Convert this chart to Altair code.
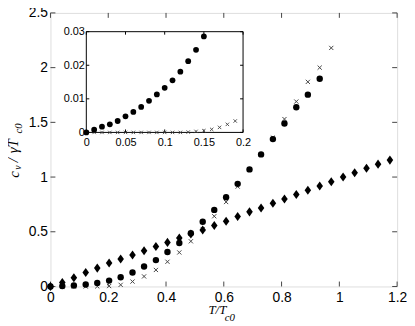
import altair as alt
import pandas as pd

# ---------------- data ----------------
main_x = [0, 0.041, 0.081, 0.122, 0.162, 0.203, 0.243, 0.284, 0.324, 0.365,
          0.405, 0.446, 0.486, 0.527, 0.567, 0.608, 0.648, 0.689, 0.729, 0.770,
          0.810, 0.851, 0.891, 0.932, 0.972, 1.013, 1.053, 1.094, 1.134, 1.175]
circle_y = [0, 0.0034, 0.009, 0.018, 0.033, 0.054, 0.085, 0.128, 0.182, 0.241,
            0.315, 0.398, 0.486, 0.591, 0.70, 0.815, 0.938, 1.07, 1.207, 1.347,
            1.49, 1.638, 1.753, 1.899]
cross_y = [0, 0, 0, 0, 0.001, 0.004, 0.015, 0.045, 0.092, 0.151,
           0.226, 0.311, 0.413, 0.525, 0.642, 0.772, 0.913, 1.07, 1.21, 1.36,
           1.53, 1.69, 1.87, 2.0, 2.18]
diamond_y = [0, 0.037, 0.08, 0.127, 0.168, 0.214, 0.252, 0.288, 0.326, 0.365,
             0.403, 0.444, 0.48, 0.517, 0.558, 0.597, 0.639, 0.682, 0.718, 0.760,
             0.799, 0.841, 0.880, 0.919, 0.958, 1.001, 1.040, 1.080, 1.118, 1.155]

inset_x = [0, 0.01, 0.02, 0.03, 0.04, 0.05, 0.06, 0.07, 0.08, 0.09,
           0.10, 0.11, 0.12, 0.13, 0.14, 0.15, 0.16, 0.17, 0.18, 0.19]
inset_circle_y = [0, 0.0008, 0.0017, 0.0024, 0.0034, 0.0048, 0.0061, 0.0076,
                  0.0094, 0.0113, 0.0133, 0.0155, 0.0181, 0.0212, 0.0246, 0.0286]
inset_cross_y = [0, 0, 0, 0, 0, 0, 0, 0, 0, 0,
                 0, 0, 0, 0.0001, 0.0003, 0.0005, 0.0009, 0.0015, 0.0024, 0.0034]

main_xticks = [0, 0.2, 0.4, 0.6, 0.8, 1.0, 1.2]
main_yticks = [0, 0.5, 1.0, 1.5, 2.0, 2.5]
inset_xticks = [0, 0.05, 0.1, 0.15, 0.2]
inset_yticks = [0, 0.01, 0.02, 0.03]

# ---------------- layout constants ----------------
W, H = 351, 277
IX0, IX1 = 36.3, 195.0      # inset left/right (px inside plot)
IY0, IY1 = 121.0, 19.0      # inset bottom/top (px inside plot)
TICK = 5
ITICK = 3
FRAME = "#444444"
SANS = "Liberation Sans"
SERIF = "Liberation Serif"

df_c = pd.DataFrame({"x": main_x[:len(circle_y)], "y": circle_y})
df_x = pd.DataFrame({"x": main_x[:len(cross_y)], "y": cross_y})
df_d = pd.DataFrame({"x": main_x[:len(diamond_y)], "y": diamond_y})
df_ic = pd.DataFrame({"x": inset_x[:len(inset_circle_y)], "y": inset_circle_y})
df_ix = pd.DataFrame({"x": inset_x[:len(inset_cross_y)], "y": inset_cross_y})

xs = alt.Scale(domain=[0, 1.2], nice=False, zero=False)
ys = alt.Scale(domain=[0, 2.5], nice=False, zero=False)
xaxis = alt.Axis(values=main_xticks, format="~g", ticks=False, domain=False, grid=False,
                 labelFontSize=14, labelPadding=4, labelFlush=False, labelOverlap=False,
                 labelFont=SANS, labelColor="black", title=None, orient="bottom")
yaxis = alt.Axis(values=main_yticks, format="~g", ticks=False, domain=False, grid=False,
                 labelFontSize=14, labelPadding=3, labelFlush=False, labelOverlap=False,
                 labelFont=SANS, labelColor="black", title=None, orient="left")


def MX(f):
    return alt.X(f, type="quantitative", scale=xs, axis=xaxis)


def MY(f):
    return alt.Y(f, type="quantitative", scale=ys, axis=yaxis)


ixs = alt.Scale(domain=[0, 0.2], range=[IX0, IX1], nice=False, zero=False)
iys = alt.Scale(domain=[0, 0.03], range=[IY0, IY1], nice=False, zero=False)
ixaxis = alt.Axis(values=inset_xticks, format="~g", ticks=False, domain=False, grid=False,
                  labelFontSize=11, labelPadding=4, labelFlush=False, labelOverlap=False,
                  labelFont=SANS, labelColor="black", title=None, orient="bottom",
                  offset=IY0 - H)
iyaxis = alt.Axis(values=inset_yticks, format="~g", ticks=False, domain=False, grid=False,
                  labelFontSize=11, labelPadding=2, labelFlush=False, labelOverlap=False,
                  labelFont=SANS, labelColor="black", title=None, orient="left",
                  offset=-IX0)


def IX(f):
    return alt.X(f, type="quantitative", scale=ixs, axis=ixaxis)


def IY(f):
    return alt.Y(f, type="quantitative", scale=iys, axis=iyaxis)


diamond_path = "M0,-1.45L1.05,0L0,1.45L-1.05,0Z"
x_path = "M-1,-1L1,1M-1,1L1,-1"

# ---------------- main panel ----------------
m_circ = alt.Chart(df_c).mark_point(shape="circle", filled=True, size=42, color="black",
                                    opacity=1).encode(x=MX("x"), y=MY("y"))
m_cross = alt.Chart(df_x).mark_point(shape=x_path, filled=False, size=18, color="#444444",
                                     strokeWidth=1, opacity=1).encode(x=MX("x"), y=MY("y"))
m_diam = alt.Chart(df_d).mark_point(shape=diamond_path, filled=True, size=40, color="black",
                                    opacity=1).encode(x=MX("x"), y=MY("y"))

df_mxt = pd.DataFrame({"v": main_xticks})
df_myt = pd.DataFrame({"v": main_yticks})
tk_b = alt.Chart(df_mxt).mark_rule(color=FRAME, strokeWidth=1).encode(
    x=MX("v"), y=alt.value(H), y2=alt.value(H - TICK))
tk_t = alt.Chart(df_mxt).mark_rule(color=FRAME, strokeWidth=1).encode(
    x=MX("v"), y=alt.value(0), y2=alt.value(TICK))
tk_l = alt.Chart(df_myt).mark_rule(color=FRAME, strokeWidth=1).encode(
    y=MY("v"), x=alt.value(0), x2=alt.value(TICK))
tk_r = alt.Chart(df_myt).mark_rule(color=FRAME, strokeWidth=1).encode(
    y=MY("v"), x=alt.value(W), x2=alt.value(W - TICK))

main = alt.layer(tk_b, tk_t, tk_l, tk_r, m_cross, m_circ, m_diam)

# ---------------- inset panel ----------------
df_frame = pd.DataFrame({"x": [inset_xticks[0]], "x2": [inset_xticks[-1]],
                         "y": [inset_yticks[0]], "y2": [inset_yticks[-1]]})
i_frame = alt.Chart(df_frame).mark_rect(fill="white", stroke="black", strokeWidth=1).encode(
    x=IX("x"), x2="x2:Q", y=IY("y"), y2="y2:Q")
df_ixt = pd.DataFrame({"v": inset_xticks})
df_iyt = pd.DataFrame({"v": inset_yticks})
itk_b = alt.Chart(df_ixt).mark_rule(color="black", strokeWidth=1).encode(
    x=IX("v"), y=alt.value(IY0), y2=alt.value(IY0 - ITICK))
itk_t = alt.Chart(df_ixt).mark_rule(color="black", strokeWidth=1).encode(
    x=IX("v"), y=alt.value(IY1), y2=alt.value(IY1 + ITICK))
itk_l = alt.Chart(df_iyt).mark_rule(color="black", strokeWidth=1).encode(
    y=IY("v"), x=alt.value(IX0), x2=alt.value(IX0 + ITICK))
itk_r = alt.Chart(df_iyt).mark_rule(color="black", strokeWidth=1).encode(
    y=IY("v"), x=alt.value(IX1), x2=alt.value(IX1 - ITICK))
i_cross = alt.Chart(df_ix).mark_point(shape=x_path, filled=False, size=12, color="#444444",
                                      strokeWidth=0.9, opacity=1).encode(x=IX("x"), y=IY("y"))
i_circ = alt.Chart(df_ic).mark_point(shape="circle", filled=True, size=34, color="black",
                                     opacity=1).encode(x=IX("x"), y=IY("y"))

inset = alt.layer(i_frame, itk_b, itk_t, itk_l, itk_r, i_cross, i_circ)

# ---------------- axis titles (built from pieces for subscripts) ----------------
one = pd.DataFrame({"a": [0]})


def label(text, x, y, size, angle=0, align="center", baseline="middle"):
    kw = dict(text=text, font=SERIF, fontStyle="italic", fontSize=size, color="black",
              align=align, baseline=baseline)
    if angle:
        kw["angle"] = angle
    return alt.Chart(one).mark_text(**kw).encode(x=alt.value(x), y=alt.value(y))


titles = [
    label("T/T", 169, 304.5, 13, baseline="alphabetic"),
    label("c0", 176.5, 311.5, 11, align="left", baseline="alphabetic"),
    label("c", -37, 163.5, 15, angle=270),
    label("v", -32.5, 156.5, 10, angle=270),
    label("/", -37.5, 149, 15, angle=270),
    label("γT", -37.5, 135, 15, angle=270),
    label("c0", -32, 117, 11, angle=270),
]

chart = alt.layer(main, inset, *titles).resolve_scale(
    x="independent", y="independent"
).properties(
    width=W, height=H,
    padding={"left": 43, "top": 3, "right": 10, "bottom": 36},
    autosize=alt.AutoSizeParams(type="none"),
).configure_view(
    stroke=FRAME, strokeWidth=1
).configure(background="white")

chart.save("out.html", embed_options={"renderer": "svg", "actions": False})
